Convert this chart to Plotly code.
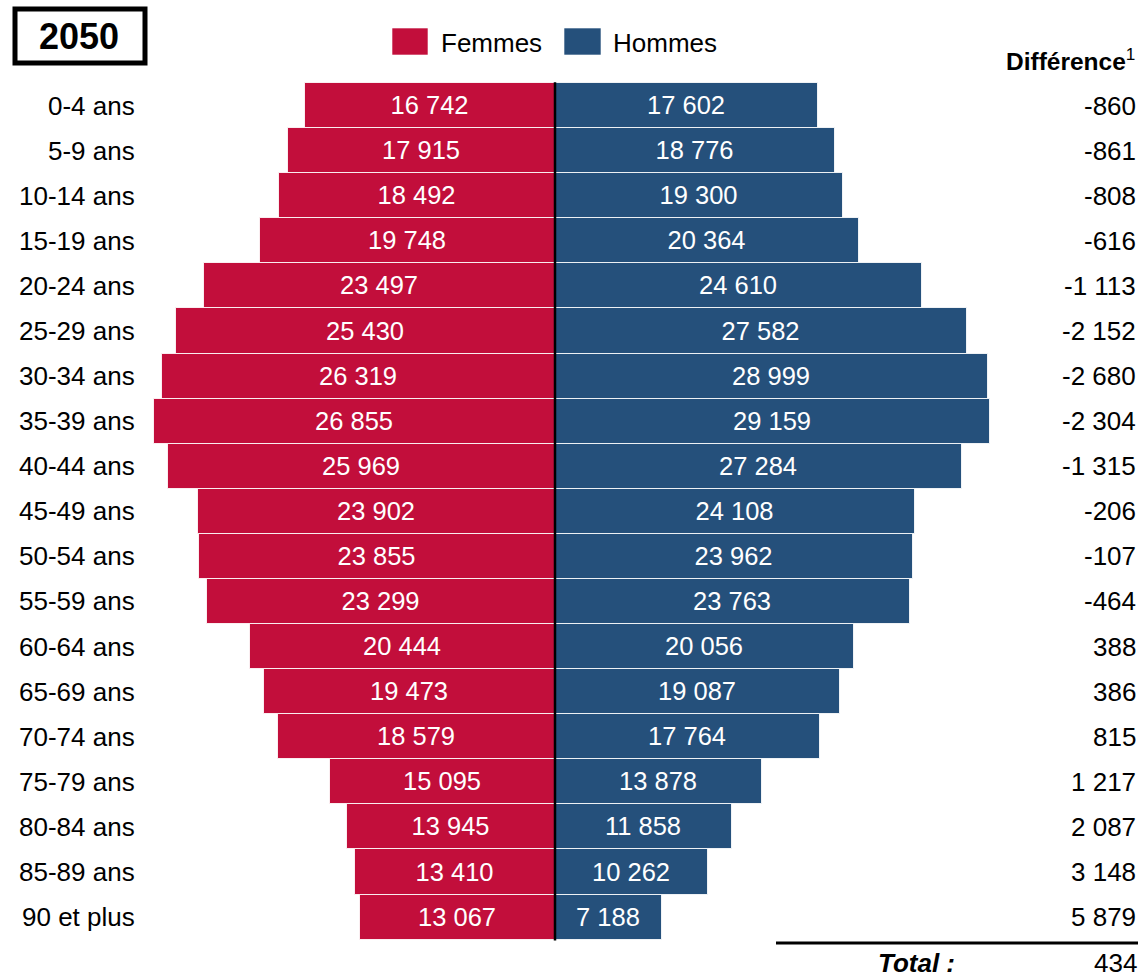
import plotly.graph_objects as go

# ---- data ----
groupes = ["0-4 ans", "5-9 ans", "10-14 ans", "15-19 ans", "20-24 ans", "25-29 ans",
           "30-34 ans", "35-39 ans", "40-44 ans", "45-49 ans", "50-54 ans", "55-59 ans",
           "60-64 ans", "65-69 ans", "70-74 ans", "75-79 ans", "80-84 ans", "85-89 ans",
           "90 et plus"]
femmes = [16742, 17915, 18492, 19748, 23497, 25430, 26319, 26855, 25969, 23902,
          23855, 23299, 20444, 19473, 18579, 15095, 13945, 13410, 13067]
hommes = [17602, 18776, 19300, 20364, 24610, 27582, 28999, 29159, 27284, 24108,
          23962, 23763, 20056, 19087, 17764, 13878, 11858, 10262, 7188]
difference = [-860, -861, -808, -616, -1113, -2152, -2680, -2304, -1315, -206,
              -107, -464, 388, 386, 815, 1217, 2087, 3148, 5879]
total_diff = 434
annee = "2050"

# ---- style ----
W, H = 1139, 977
ROUGE = "#C20E3B"
BLEU = "#25507B"
FONT = "Liberation Sans, Arial, sans-serif"
FS = 26
FS_BAR = 25.5

def fmt(v):
    s = f"{abs(v):,}".replace(",", " ")
    return ("-" if v < 0 else "") + s

def px(x):
    return x / W

def py(y):
    return 1 - y / H

# axis mapping (px -> data)
CX = 555.0            # pixel of zero
SCALE = 14.92 / 1000  # px per unit
ROW0 = 105.6          # pixel of first row centre
PITCH = 45.08         # row pitch in px

x_range = [-CX / SCALE, (W - CX) / SCALE]
y_range = [(H - ROW0) / PITCH, -ROW0 / PITCH]

idx = list(range(len(groupes)))

fig = go.Figure()
fig.add_trace(go.Bar(
    y=idx, x=[-v for v in femmes], orientation="h", name="Femmes",
    marker=dict(color=ROUGE, line=dict(color="rgba(255,255,255,0.85)", width=1)),
    text=[fmt(v) for v in femmes], textposition="inside", insidetextanchor="middle",
    textangle=0, textfont=dict(color="white", size=FS_BAR, family=FONT),
    showlegend=False, hoverinfo="skip",
))
fig.add_trace(go.Bar(
    y=idx, x=hommes, orientation="h", name="Hommes",
    marker=dict(color=BLEU, line=dict(color="rgba(255,255,255,0.85)", width=1)),
    text=[fmt(v) for v in hommes], textposition="inside", insidetextanchor="middle",
    textangle=0, textfont=dict(color="white", size=FS_BAR, family=FONT),
    showlegend=False, hoverinfo="skip",
))

annotations = []
# category labels
for i, g in enumerate(groupes):
    annotations.append(dict(x=px(137), xref="paper", y=i, yref="y", text=g,
                            showarrow=False, xanchor="right", yanchor="middle",
                            font=dict(size=FS, color="black", family=FONT)))
# differences
for i, d in enumerate(difference):
    annotations.append(dict(x=px(1138), xref="paper", y=i, yref="y", text=fmt(d),
                            showarrow=False, xanchor="right", yanchor="middle",
                            font=dict(size=FS, color="black", family=FONT)))
# header
annotations.append(dict(x=px(1137), xref="paper", y=py(60), yref="paper",
                        text="<b>Différence</b><sup>1</sup>", showarrow=False,
                        xanchor="right", yanchor="middle",
                        font=dict(size=24.5, color="black", family=FONT)))
# total
annotations.append(dict(x=px(916), xref="paper", y=py(963), yref="paper",
                        text="<b><i>Total :</i></b>", showarrow=False,
                        xanchor="center", yanchor="middle", borderpad=0,
                        font=dict(size=FS, color="black", family=FONT)))
annotations.append(dict(x=px(1138), xref="paper", y=py(963), yref="paper",
                        text=fmt(total_diff), showarrow=False,
                        xanchor="right", yanchor="middle", borderpad=0,
                        font=dict(size=FS, color="black", family=FONT)))
# year
annotations.append(dict(x=px(79), xref="paper", y=py(37), yref="paper",
                        text=f"<b>{annee}</b>", showarrow=False,
                        xanchor="center", yanchor="middle",
                        font=dict(size=36, color="black", family=FONT)))
# legend texts
annotations.append(dict(x=px(439), xref="paper", y=py(43), yref="paper",
                        text="Femmes", showarrow=False, xanchor="left", yanchor="middle",
                        font=dict(size=FS, color="black", family=FONT)))
annotations.append(dict(x=px(611), xref="paper", y=py(43), yref="paper",
                        text="Hommes", showarrow=False, xanchor="left", yanchor="middle",
                        font=dict(size=FS, color="black", family=FONT)))

shapes = [
    # center axis line
    dict(type="line", xref="x", yref="y", x0=0, x1=0, y0=-0.52, y1=len(groupes) - 0.48,
         line=dict(color="black", width=2.5)),
    # year box
    dict(type="rect", xref="paper", yref="paper", x0=px(15), x1=px(145), y0=py(9), y1=py(63),
         line=dict(color="black", width=5), fillcolor="rgba(0,0,0,0)"),
    # legend squares
    dict(type="rect", xref="paper", yref="paper", x0=px(392), x1=px(428), y0=py(28), y1=py(55),
         line=dict(color="rgba(255,255,255,0.6)", width=1), fillcolor=ROUGE),
    dict(type="rect", xref="paper", yref="paper", x0=px(564), x1=px(601), y0=py(28), y1=py(55),
         line=dict(color="rgba(255,255,255,0.6)", width=1), fillcolor=BLEU),
    # total line
    dict(type="line", xref="paper", yref="paper", x0=px(776), x1=px(1138), y0=py(943), y1=py(943),
         line=dict(color="black", width=3)),
]

fig.update_layout(
    width=W, height=H,
    margin=dict(l=0, r=0, t=0, b=0),
    paper_bgcolor="white", plot_bgcolor="white",
    barmode="relative", bargap=0,
    xaxis=dict(range=x_range, visible=False, fixedrange=True),
    yaxis=dict(range=y_range, visible=False, fixedrange=True),
    annotations=annotations, shapes=shapes,
    font=dict(family=FONT),
    showlegend=False,
)

fig.write_html(
    "out.html",
    config={"displayModeBar": False},
    post_script="document.body.style.margin='0';document.body.style.overflow='hidden';",
)
